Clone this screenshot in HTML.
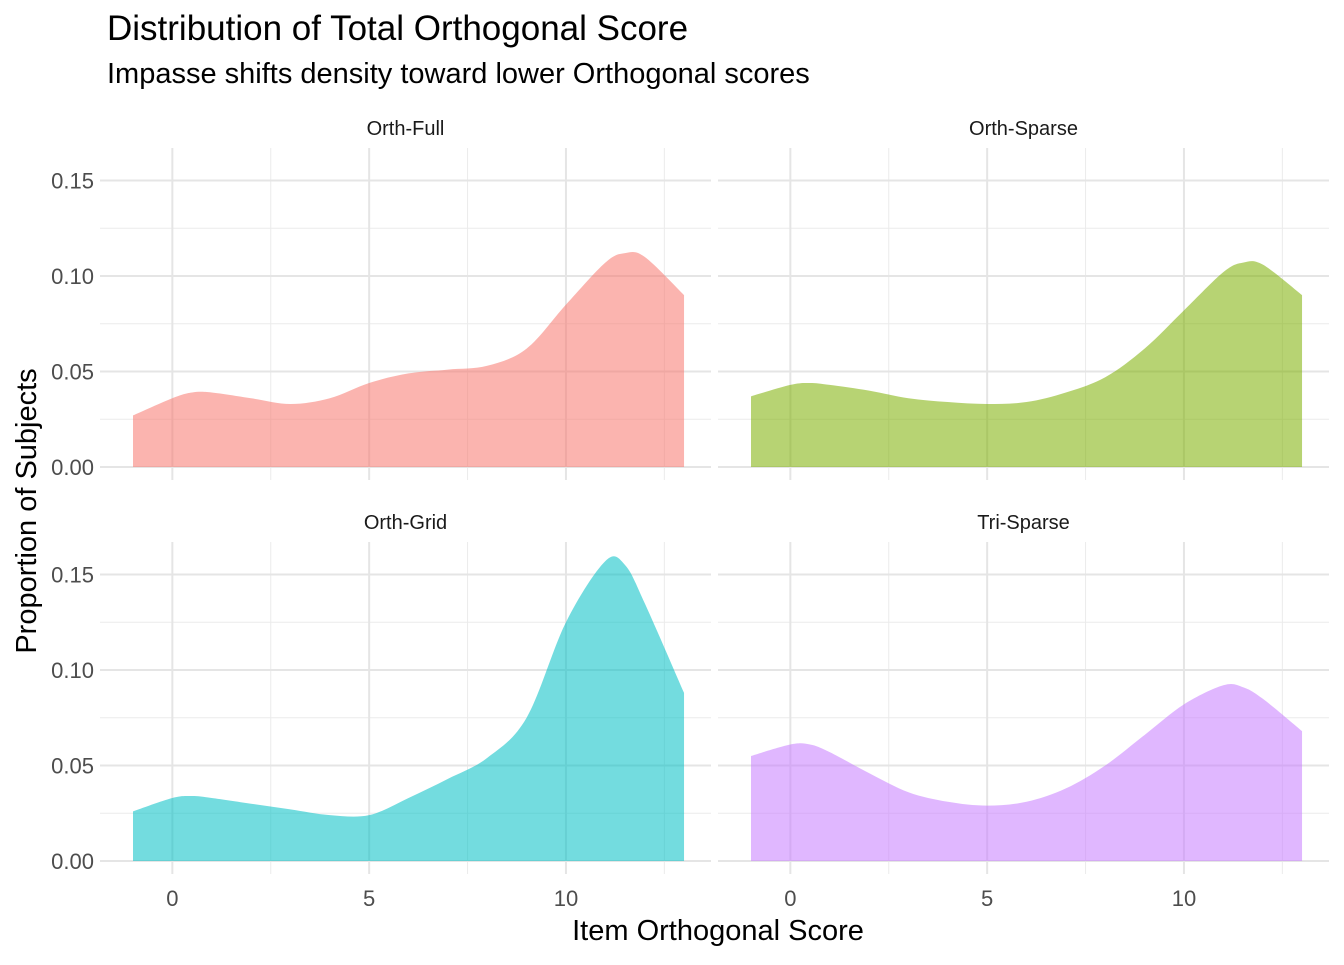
<!DOCTYPE html>
<html><head><meta charset="utf-8"><style>
body{margin:0;background:#fff;}
svg text{font-family:"Liberation Sans",Arial,sans-serif;}
</style></head><body>
<svg id="chart" width="1344" height="960" viewBox="0 0 1344 960" xmlns="http://www.w3.org/2000/svg">
<text x="107" y="40" font-size="35" fill="#000">Distribution of Total Orthogonal Score</text>
<text x="107" y="83" font-size="29" fill="#000">Impasse shifts density toward lower Orthogonal scores</text>
<text x="718" y="940" font-size="29" text-anchor="middle" fill="#000">Item Orthogonal Score</text>
<text transform="translate(36,511) rotate(-90)" font-size="29" text-anchor="middle" fill="#000">Proportion of Subjects</text>
<g id="panels"></g>
</svg>
<script>
const panelNames = ["Orth-Full","Orth-Sparse","Orth-Grid","Tri-Sparse"];
const colors = ["#F8766D","#7CAE00","#00BFC4","#C77CFF"];
const xs = [-1,0,0.5,1,2,3,4,5,6,7,8,9,10,11,11.5,12,13];
const orthFull   = [0.027,0.036,0.039,0.039,0.036,0.033,0.036,0.044,0.049,0.051,0.053,0.062,0.085,0.107,0.112,0.110,0.090];
const orthSparse = [0.037,0.043,0.044,0.043,0.040,0.036,0.034,0.033,0.034,0.039,0.047,0.062,0.082,0.102,0.107,0.106,0.090];
const orthGrid   = [0.026,0.033,0.034,0.033,0.030,0.027,0.024,0.024,0.033,0.043,0.054,0.075,0.125,0.157,0.155,0.135,0.088];
const triSparse  = [0.055,0.061,0.061,0.057,0.046,0.036,0.031,0.029,0.031,0.038,0.050,0.066,0.082,0.092,0.091,0.085,0.068];
const series = [orthFull,orthSparse,orthGrid,triSparse];
const xTicks = [0,5,10];
const yTicks = [0,0.05,0.10,0.15];
const yTickLabels = ["0.00","0.05","0.10","0.15"];

const NS="http://www.w3.org/2000/svg";
const g=document.getElementById('panels');
function mk(tag,attrs,parent){const e=document.createElementNS(NS,tag);for(const k in attrs)e.setAttribute(k,attrs[k]);(parent||g).appendChild(e);return e;}
const layout=[{x0:133,y0:467,px:100,pr:711,pt:148,pb:480,sy:128},{x0:751,y0:467,px:718,pr:1329,pt:148,pb:480,sy:128},
{x0:133,y0:861,px:100,pr:711,pt:542,pb:874,sy:522},{x0:751,y0:861,px:718,pr:1329,pt:542,pb:874,sy:522}];
const xPer=39.36, yPer=1910;
panelNames.forEach((name,i)=>{
 const L=layout[i];
 const X=v=>L.x0+(v+1)*xPer, Y=v=>L.y0-v*yPer;
 const pg=mk('g',{});
 
 
 [2.5,7.5,12.5].forEach(v=>{const l=mk('line',{x1:X(v),x2:X(v),y1:L.pt,y2:L.pb,stroke:'#ebebeb','stroke-width':1},pg);});
 [0.025,0.075,0.125].forEach(v=>{const l=mk('line',{x1:L.px,x2:L.pr,y1:Y(v),y2:Y(v),stroke:'#ebebeb','stroke-width':1},pg);});
 xTicks.forEach(v=>{const l=mk('line',{x1:X(v),x2:X(v),y1:L.pt,y2:L.pb,stroke:'#e5e5e5','stroke-width':2},pg);});
 yTicks.forEach(v=>{const l=mk('line',{x1:L.px,x2:L.pr,y1:Y(v),y2:Y(v),stroke:'#e5e5e5','stroke-width':2},pg);});
 const d=series[i];
 const P=xs.map((x,k)=>[X(x),Y(d[k])]);
 let path=`M${P[0][0]},${L.y0} L${P[0][0]},${P[0][1]}`;
 for(let k=0;k<P.length-1;k++){
  const p0=P[Math.max(k-1,0)],p1=P[k],p2=P[k+1],p3=P[Math.min(k+2,P.length-1)];
  const c1=[p1[0]+(p2[0]-p0[0])/6,p1[1]+(p2[1]-p0[1])/6];
  const c2=[p2[0]-(p3[0]-p1[0])/6,p2[1]-(p3[1]-p1[1])/6];
  path+=` C${c1[0]},${c1[1]} ${c2[0]},${c2[1]} ${p2[0]},${p2[1]}`;
 }
 path+=` L${P[P.length-1][0]},${L.y0} Z`;
 const a=mk('path',{d:path,fill:colors[i],'fill-opacity':0.55},pg);
 
 
 const s=mk('text',{x:(L.px+L.pr)/2,y:L.sy+7,'font-size':20,'text-anchor':'middle',fill:'#1a1a1a'},pg);s.textContent=name;
 
 
 if(i%2===0){yTicks.forEach((v,k)=>{const t=mk('text',{x:94,y:Y(v)+8,'font-size':22,'text-anchor':'end',fill:'#4d4d4d'},pg);t.textContent=yTickLabels[k];
  
  });}
 if(i>=2){xTicks.forEach(v=>{const t=mk('text',{x:X(v),y:L.pb+32,'font-size':22,'text-anchor':'middle',fill:'#4d4d4d'},pg);t.textContent=v;
  
  });}
});
</script>
</body></html>
